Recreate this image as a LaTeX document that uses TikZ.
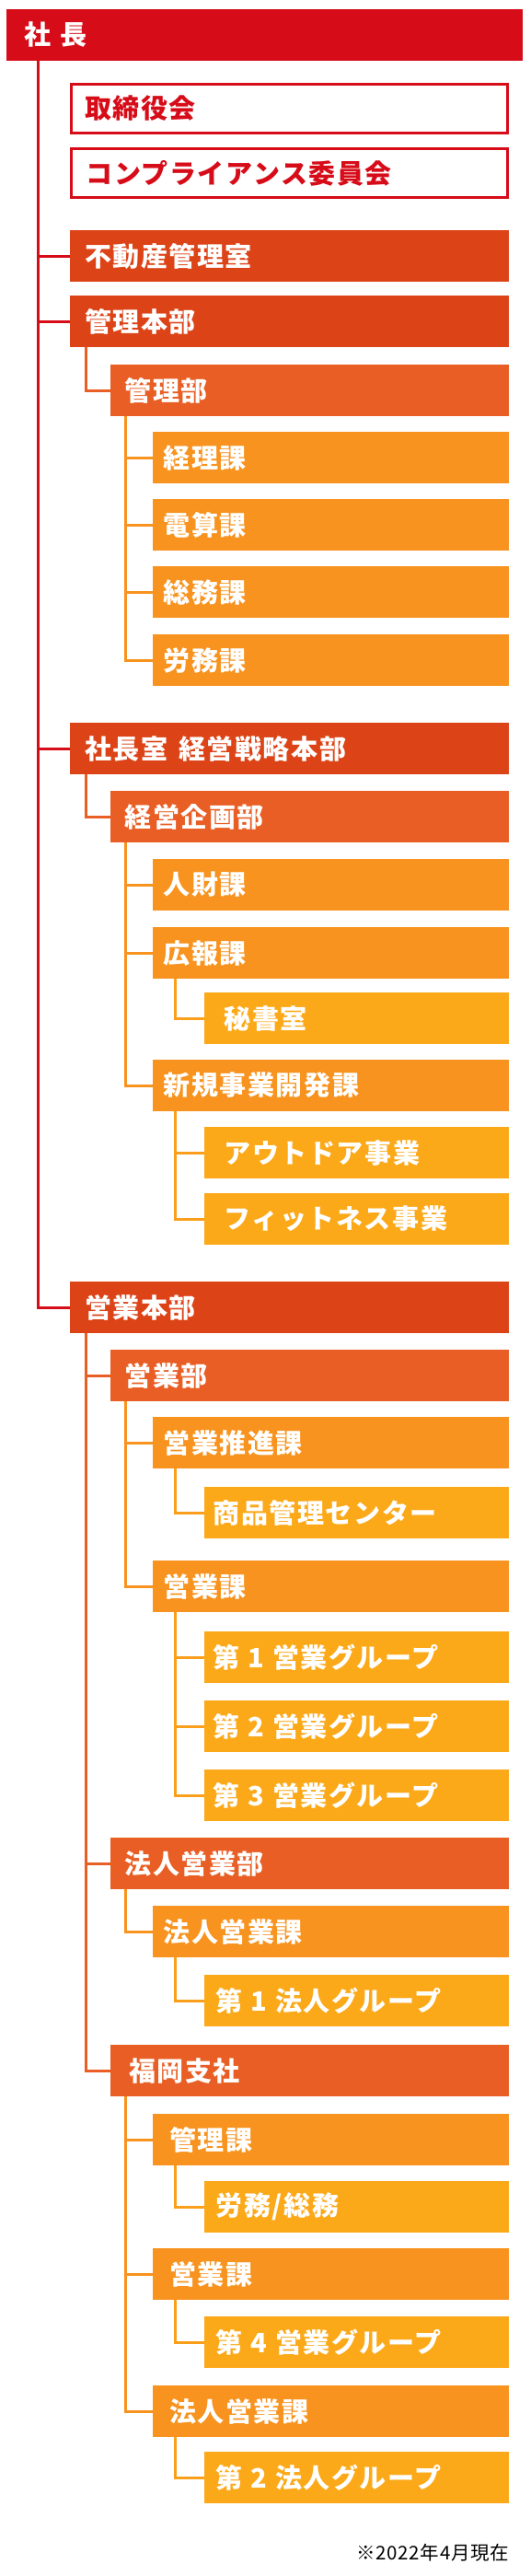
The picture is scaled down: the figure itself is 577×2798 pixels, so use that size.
\documentclass[tikz,border=0pt]{standalone}
\usepackage{fontspec}
\newfontfamily\jp[LetterSpace=5.5]{Noto Sans CJK JP}
\newfontfamily\jpn[LetterSpace=3]{Noto Sans CJK JP}
\definecolor{cR}{HTML}{D70C19}
\definecolor{c1}{HTML}{DC4418}
\definecolor{c2}{HTML}{E85E24}
\definecolor{c3}{HTML}{F7931E}
\definecolor{c4}{HTML}{FBA919}
\colorlet{c34}{c3!45!c4}
\newcommand\jsp{\hspace{9pt}}
\begin{document}
\begin{tikzpicture}[x=1pt,y=-1pt,
  box/.style={anchor=north west, minimum height=56pt, inner ysep=0pt, outer sep=0pt,
    text=white, align=left, font=\fontsize{29}{34}\selectfont\jp\bfseries},
  L0/.style={box, fill=cR, inner xsep=19.5pt, text width=522pt},
  Lo/.style={box, draw=cR, line width=3pt, fill=white, text=cR, minimum height=53pt,
    inner xsep=14.5pt, text width=445pt},
  L1/.style={box, fill=c1, inner xsep=16pt, text width=445pt},
  L2/.style={box, fill=c2, inner xsep=15.2pt, text width=402.3pt},
  L3/.style={box, fill=c3, inner xsep=11.9pt, text width=363.6pt},
  L3f/.style={box, fill=c3, inner xsep=18.4pt, text width=350.6pt},
  L4a/.style={box, fill=c4, inner xsep=9.6pt, text width=311.9pt},
  L4b/.style={box, fill=c4, inner xsep=21.6pt, text width=287.9pt},
  L4c/.style={box, fill=c4, inner xsep=12.6pt, text width=305.9pt},
  link/.style={line width=3pt}
]
\useasboundingbox (0,0) rectangle (577,2798);

\node[L0] (pres) at (7,10) {社\hspace{10pt}長};
\node[Lo] (board) at (77.5,91.5) {取締役会};
\node[Lo, inner xsep=16pt, text width=442pt] (comp) at (77.5,161.5) {コンプライアンス委員会};

\node[L1] (fudo) at (76,250) {不動産管理室};
\node[L1] (kanri) at (76,321) {管理本部};
\node[L2] (kanribu) at (120.3,396) {管理部};
\node[L3] (keiri) at (165.6,469) {経理課};
\node[L3] (densan) at (165.6,542) {電算課};
\node[L3] (somu) at (165.6,615) {総務課};
\node[L3] (romu) at (165.6,689) {労務課};

\node[L1] (shacho) at (76,785) {社長室\hspace{12pt}経営戦略本部};
\node[L2] (keiei) at (120.3,859) {経営企画部};
\node[L3] (jinzai) at (165.6,933) {人財課};
\node[L3] (koho) at (165.6,1007) {広報課};
\node[L4b] (hisho) at (221.9,1078) {秘書室};
\node[L3] (shinki) at (165.6,1151) {新規事業開発課};
\node[L4b] (outdoor) at (221.9,1224) {アウトドア事業};
\node[L4b] (fitness) at (221.9,1296) {フィットネス事業};

\node[L1] (eigyo) at (76,1392) {営業本部};
\node[L2] (eigyobu) at (120.3,1466) {営業部};
\node[L3] (suishin) at (165.6,1539) {営業推進課};
\node[L4a] (shohin) at (221.9,1615) {商品管理センター};
\node[L3] (eigyoka) at (165.6,1695) {営業課};
\node[L4a] (g1) at (221.9,1772) {第{\jsp}1{\jsp}営業グループ};
\node[L4a] (g2) at (221.9,1847) {第{\jsp}2{\jsp}営業グループ};
\node[L4a] (g3) at (221.9,1922) {第{\jsp}3{\jsp}営業グループ};
\node[L2] (hojinbu) at (120.3,1996) {法人営業部};
\node[L3] (hojinka) at (165.6,2070) {法人営業課};
\node[L4c] (hg1) at (221.9,2145) {第{\jsp}1{\jsp}法人グループ};
\node[L2, inner xsep=19.7pt, text width=393.3pt] (fukuoka) at (120.3,2221) {福岡支社};
\node[L3f] (fkanri) at (165.6,2296) {管理課};
\node[L4c] (froumu) at (221.9,2369) {労務/総務};
\node[L3f] (feigyo) at (165.6,2442) {営業課};
\node[L4c] (g4) at (221.9,2516) {第{\jsp}4{\jsp}営業グループ};
\node[L3f] (fhojin) at (165.6,2591) {法人営業課};
\node[L4c] (hg2) at (221.9,2663) {第{\jsp}2{\jsp}法人グループ};

\node[anchor=east, inner sep=0pt, font=\fontsize{20.5}{24}\selectfont\jpn] (note) at (553,2773) {※2022年4月現在};

% connectors
\foreach \c in {fudo,kanri,shacho,eigyo}
  \draw[link, cR] ([xshift=34.7pt]pres.south west) |- (\c.west);
\foreach \p/\c in {kanri/kanribu, shacho/keiei, eigyo/eigyobu, eigyo/hojinbu, eigyo/fukuoka}
  \draw[link, c2] ([xshift=17.5pt]\p.south west) |- (\c.west);
\foreach \p/\c in {kanribu/keiri, kanribu/densan, kanribu/somu, kanribu/romu,
                   keiei/jinzai, keiei/koho, keiei/shinki,
                   eigyobu/suishin, eigyobu/eigyoka, hojinbu/hojinka,
                   fukuoka/fkanri, fukuoka/feigyo, fukuoka/fhojin}
  \draw[link, c3] ([xshift=16.6pt]\p.south west) |- (\c.west);
\foreach \p/\c in {koho/hisho, shinki/outdoor, shinki/fitness, suishin/shohin,
                   eigyoka/g1, eigyoka/g2, eigyoka/g3, hojinka/hg1,
                   fkanri/froumu, feigyo/g4, fhojin/hg2}
  \draw[link, c34] ([xshift=24.8pt]\p.south west) |- (\c.west);
\end{tikzpicture}
\end{document}
